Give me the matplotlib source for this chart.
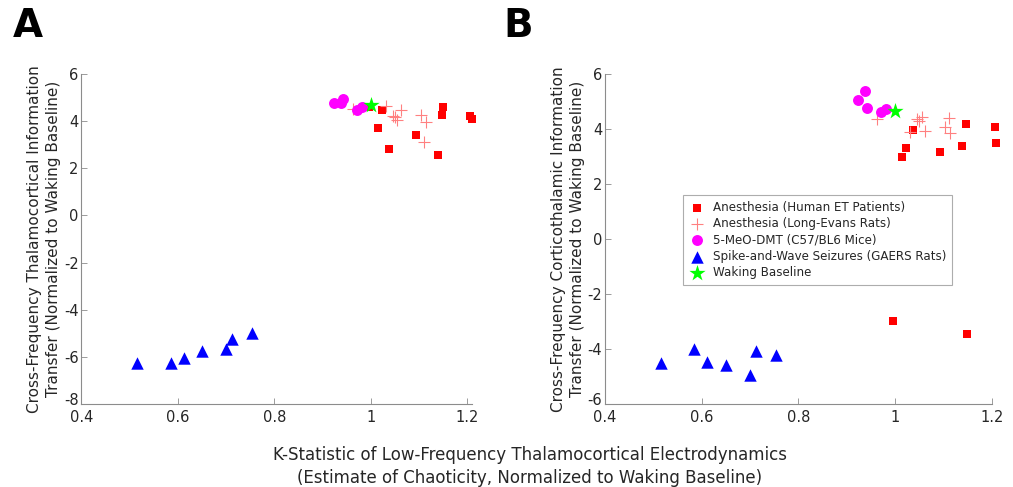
import matplotlib
matplotlib.use("Agg")
import matplotlib.pyplot as plt
import matplotlib.transforms as mtransforms

# shared K-statistic values (x), per group
human_x = [0.996, 1.015, 1.023, 1.038, 1.093, 1.139, 1.147, 1.150, 1.206, 1.209]
rat_x = [0.963, 1.031, 1.046, 1.050, 1.055, 1.062, 1.104, 1.111, 1.114]
dmt_x = [0.923, 0.938, 0.943, 0.972, 0.982]
gaers_x = [0.515, 0.585, 0.612, 0.650, 0.700, 0.712, 0.753]
wake_x = [1.0]

# panel A: thalamocortical transfer
human_a = [4.60, 3.70, 4.47, 2.81, 3.41, 2.54, 4.23, 4.57, 4.22, 4.08]
rat_a = [4.50, 4.61, 4.20, 4.16, 4.05, 4.44, 4.26, 3.10, 3.95]
dmt_a = [4.75, 4.75, 4.92, 4.45, 4.60]
gaers_a = [-6.24, -6.24, -6.04, -5.73, -5.66, -5.25, -4.99]
wake_a = [4.66]

# panel B: corticothalamic transfer
human_b = [-2.98, 2.96, 3.31, 3.95, 3.14, 3.37, 4.19, -3.45, 4.07, 3.47]
rat_b = [4.35, 3.89, 4.36, 4.29, 4.41, 3.91, 4.07, 4.40, 3.84]
dmt_b = [5.06, 5.38, 4.76, 4.61, 4.70]
gaers_b = [-4.49, -4.00, -4.45, -4.58, -4.94, -4.07, -4.22]
wake_b = [4.64]

labels = [
    "Anesthesia (Human ET Patients)",
    "Anesthesia (Long-Evans Rats)",
    "5-MeO-DMT (C57/BL6 Mice)",
    "Spike-and-Wave Seizures (GAERS Rats)",
    "Waking Baseline",
]

plt.rcParams["font.family"] = ["DejaVu Sans"]
AX_COL = "#8c8c8c"
TXT_COL = "#262626"

fig = plt.figure(figsize=(10.13, 4.87), dpi=100)
ax_a = fig.add_axes([0.0803, 0.1698, 0.3854, 0.679])
ax_b = fig.add_axes([0.5972, 0.1698, 0.3817, 0.679])


def draw(ax, ys, ylim, yticks, ylabel, xmax):
    hy, ry, dy, gy, wy = ys
    kw = dict(clip_on=False, linewidths=0)
    ax.scatter(human_x, hy, marker="s", s=36, color="#ff0000", label=labels[0], **kw)
    ax.scatter(rat_x, ry, marker="+", s=80, color="#ff8080", linewidths=0.8,
               clip_on=False, label=labels[1])
    ax.scatter(dmt_x, dy, marker="o", s=62, color="#ff00ff", label=labels[2], **kw)
    ax.scatter(gaers_x, gy, marker="^", s=80, color="#0000ff", label=labels[3], **kw)
    ax.scatter(wake_x, wy, marker="*", s=150, color="#00ff00", label=labels[4], **kw)
    ax.set_xlim(0.4, xmax)
    ax.set_ylim(*ylim)
    ax.set_xticks([0.4, 0.6, 0.8, 1.0, 1.2])
    ax.set_xticklabels(["0.4", "0.6", "0.8", "1", "1.2"])
    ax.set_yticks(yticks)
    ax.set_yticklabels([str(t) for t in yticks])
    for side in ["top", "right"]:
        ax.spines[side].set_visible(False)
    for side in ["left", "bottom"]:
        ax.spines[side].set_color(AX_COL)
        ax.spines[side].set_linewidth(0.8)
    ax.tick_params(direction="in", length=4, width=0.6, color=AX_COL,
                   labelcolor=TXT_COL, labelsize=10.5, pad=2)
    ax.tick_params(axis="x", pad=4)
    ax.set_ylabel(ylabel, fontsize=11, color=TXT_COL, labelpad=2, linespacing=1.3)
    # nudge the lowest y label up a touch so it clears the first x label
    low = ax.get_yticklabels()[0]
    low.set_transform(low.get_transform() +
                      mtransforms.ScaledTranslation(0, 4 / 72, fig.dpi_scale_trans))


draw(ax_a, (human_a, rat_a, dmt_a, gaers_a, wake_a), (-8, 6), list(range(-8, 7, 2)),
     "Cross-Frequency Thalamocortical Information\nTransfer (Normalized to Waking Baseline)",
     1.209)
draw(ax_b, (human_b, rat_b, dmt_b, gaers_b, wake_b), (-6, 6), list(range(-6, 7, 2)),
     "Cross-Frequency Corticothalamic Information\nTransfer (Normalized to Waking Baseline)",
     1.2)

leg = ax_b.legend(loc="upper left", bbox_to_anchor=(0.674, 0.600),
                  bbox_transform=fig.transFigure, fontsize=8.6, frameon=True,
                  fancybox=False, borderpad=0.5, labelspacing=0.28,
                  handletextpad=0.6, handlelength=1.4, borderaxespad=0)
leg.get_frame().set_edgecolor("#999999")
leg.get_frame().set_linewidth(0.8)
for t in leg.get_texts():
    t.set_color(TXT_COL)

fig.text(0.523, 0.043,
         "K-Statistic of Low-Frequency Thalamocortical Electrodynamics\n"
         "(Estimate of Chaoticity, Normalized to Waking Baseline)",
         ha="center", va="center", fontsize=12, color=TXT_COL, linespacing=1.35)

fig.text(0.0276, 0.947, "A", fontsize=28, fontweight="bold", ha="center",
         va="center", color="black")
fig.text(0.5115, 0.947, "B", fontsize=28, fontweight="bold", ha="center",
         va="center", color="black")

fig.savefig("out.png", dpi=100)
